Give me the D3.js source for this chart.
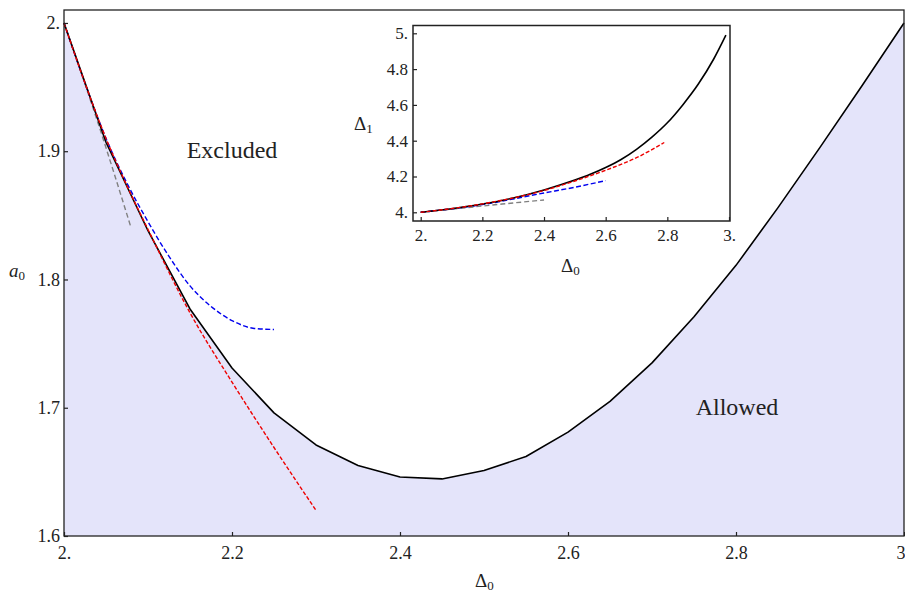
<!DOCTYPE html>
<html><head><meta charset="utf-8">
<script src="https://cdn.jsdelivr.net/npm/d3@7"></script>
<style>
html,body{margin:0;padding:0;background:#fff;}
svg text{font-family:"Liberation Serif","DejaVu Serif","Noto Serif",serif;fill:#222;}
</style></head>
<body>
<svg id="c" width="905" height="592"></svg>
<script>
// ---------- data ----------
const boundD0 = [2.00,2.05,2.10,2.15,2.20,2.25,2.30,2.35,2.40,2.45,2.50,2.55,2.60,2.65,2.70,2.75,2.80,2.85,2.90,2.95,3.00];
const boundA0 = [2.000,1.907,1.838,1.777,1.731,1.696,1.671,1.655,1.646,1.6445,1.651,1.662,1.681,1.705,1.735,1.771,1.811,1.856,1.903,1.951,2.000];
const redD0 = [2.0,2.025,2.05,2.075,2.1,2.15,2.2,2.25,2.3];
const redA0 = [2.0,1.953,1.910,1.873,1.839,1.774,1.720,1.669,1.620];
const blueD0 = [2.0,2.025,2.05,2.075,2.1,2.125,2.15,2.175,2.2,2.225,2.25];
const blueA0 = [2.0,1.953,1.910,1.875,1.845,1.818,1.795,1.779,1.768,1.762,1.761];
const grayD0 = [2.0,2.02,2.04,2.06,2.08];
const grayA0 = [2.0,1.962,1.923,1.882,1.840];

const inBlackD0 = [2.0,2.1,2.2,2.3,2.4,2.5,2.55,2.6,2.65,2.7,2.75,2.8,2.85,2.9,2.95,2.99];
const inBlackD1 = [4.0,4.02,4.046,4.08,4.125,4.18,4.212,4.25,4.295,4.352,4.42,4.50,4.60,4.715,4.855,4.99];
const inRedD0 = [2.0,2.2,2.4,2.5,2.6,2.7,2.79];
const inRedD1 = [4.0,4.047,4.122,4.175,4.235,4.305,4.39];
const inBlueD0 = [2.0,2.2,2.4,2.5,2.6];
const inBlueD1 = [4.0,4.043,4.108,4.14,4.177];
const inGrayD0 = [2.0,2.2,2.4];
const inGrayD1 = [4.0,4.035,4.069];

const mainXTicks = [2.0,2.2,2.4,2.6,2.8,3.0];
const mainXTickLabels = ["2.","2.2","2.4","2.6","2.8","3"];
const mainYTicks = [1.6,1.7,1.8,1.9,2.0];
const mainYTickLabels = ["1.6","1.7","1.8","1.9","2."];
const inXTicks = [2.0,2.2,2.4,2.6,2.8,3.0];
const inXTickLabels = ["2.","2.2","2.4","2.6","2.8","3."];
const inYTicks = [4.0,4.2,4.4,4.6,4.8,5.0];
const inYTickLabels = ["4.","4.2","4.4","4.6","4.8","5."];

const zip = (a,b)=>a.map((v,i)=>[v,b[i]]);
const svg = d3.select("#c");
const FONT = '"Liberation Serif","DejaVu Serif","Noto Serif",serif';

// ---------- main plot ----------
const L=64, R=904, T=10, B=536;
const x = d3.scaleLinear().domain([2,3]).range([L,R]);
const y = d3.scaleLinear().domain([1.6,2.0101]).range([B,T]);

const fillC = "#e4e4fa";
svg.append("path").datum(zip(boundD0,boundA0))
  .attr("d", d3.area().x(d=>x(d[0])).y0(B).y1(d=>y(d[1])))
  .attr("fill", fillC);

const lineM = d3.line().x(d=>x(d[0])).y(d=>y(d[1]));
const lineMs = d3.line().x(d=>x(d[0])).y(d=>y(d[1])).curve(d3.curveMonotoneX);

svg.append("path").datum(zip(grayD0,grayA0)).attr("d",lineMs)
  .attr("fill","none").attr("stroke","#808080").attr("stroke-width",1.4).attr("stroke-dasharray","5,3");
svg.append("path").datum(zip(blueD0,blueA0)).attr("d",lineMs)
  .attr("fill","none").attr("stroke","#0000ee").attr("stroke-width",1.4).attr("stroke-dasharray","5,2.5");
svg.append("path").datum(zip(boundD0,boundA0)).attr("d",lineM)
  .attr("fill","none").attr("stroke","#000").attr("stroke-width",1.6).attr("stroke-linejoin","round");
svg.append("path").datum(zip(redD0,redA0)).attr("d",lineMs)
  .attr("fill","none").attr("stroke","#ee0000").attr("stroke-width",1.4).attr("stroke-dasharray","4,2");

// frame
svg.append("rect").attr("x",L).attr("y",T).attr("width",R-L).attr("height",B-T)
  .attr("fill","none").attr("stroke","#222").attr("stroke-width",1.3);

// axes (ticks inward)
const gx = svg.append("g").attr("transform",`translate(0,${B})`)
  .call(d3.axisBottom(x).tickValues(mainXTicks).tickSizeInner(-4).tickSizeOuter(0)
        .tickFormat((d,i)=>mainXTickLabels[i]));
const gy = svg.append("g").attr("transform",`translate(${L},0)`)
  .call(d3.axisLeft(y).tickValues(mainYTicks).tickSizeInner(-4).tickSizeOuter(0)
        .tickFormat((d,i)=>mainYTickLabels[i]));
[gx,gy].forEach(g=>{
  g.attr("font-family",FONT);
  g.select(".domain").remove();
  g.selectAll(".tick line").attr("stroke","#222").attr("stroke-width",1.2);
  g.selectAll("text").style("font-family",FONT).attr("font-size",18).attr("fill","#222");
});
gx.selectAll("text").attr("y",10).attr("dy","0.71em");
gx.selectAll(".tick").filter((d,i)=>i===mainXTicks.length-1).select("text")
  .attr("text-anchor","end").attr("x",1);
gy.selectAll("text").attr("x",-4).attr("dy","0.32em");

// axis labels
const a0 = svg.append("text").attr("x",9).attr("y",277).attr("font-size",19);
a0.append("tspan").attr("font-style","italic").text("a");
a0.append("tspan").attr("font-size",13).attr("dy",3).text("0");
const d0 = svg.append("text").attr("x",475).attr("y",587).attr("font-size",19);
d0.append("tspan").text("Δ");
d0.append("tspan").attr("font-size",13).attr("dy",3).text("0");

svg.append("text").attr("x",232).attr("y",158).attr("text-anchor","middle").attr("font-size",24).text("Excluded");
svg.append("text").attr("x",737).attr("y",415).attr("text-anchor","middle").attr("font-size",24).text("Allowed");

// ---------- inset ----------
const iL=413, iR=730, iT=25.5, iB=221;
const xi = d3.scaleLinear().domain([2,3]).range([420.7,729]);
const yi = d3.scaleLinear().domain([4,5]).range([212.3,33.3]);
svg.append("rect").attr("x",iL).attr("y",iT).attr("width",iR-iL).attr("height",iB-iT)
  .attr("fill","#fff").attr("stroke","none");
const lineI = d3.line().x(d=>xi(d[0])).y(d=>yi(d[1])).curve(d3.curveMonotoneX);
svg.append("path").datum(zip(inGrayD0,inGrayD1)).attr("d",lineI)
  .attr("fill","none").attr("stroke","#808080").attr("stroke-width",1.4).attr("stroke-dasharray","5,3");
svg.append("path").datum(zip(inBlueD0,inBlueD1)).attr("d",lineI)
  .attr("fill","none").attr("stroke","#0000ee").attr("stroke-width",1.4).attr("stroke-dasharray","5,2.5");
svg.append("path").datum(zip(inBlackD0,inBlackD1)).attr("d",lineI)
  .attr("fill","none").attr("stroke","#000").attr("stroke-width",1.6);
svg.append("path").datum(zip(inRedD0,inRedD1)).attr("d",lineI)
  .attr("fill","none").attr("stroke","#ee0000").attr("stroke-width",1.4).attr("stroke-dasharray","4,2");
svg.append("rect").attr("x",iL).attr("y",iT).attr("width",iR-iL).attr("height",iB-iT)
  .attr("fill","none").attr("stroke","#222").attr("stroke-width",1.5);

const gxi = svg.append("g").attr("transform",`translate(0,${iB})`)
  .call(d3.axisBottom(xi).tickValues(inXTicks).tickSizeInner(-4).tickSizeOuter(0)
        .tickFormat((d,i)=>inXTickLabels[i]));
const gyi = svg.append("g").attr("transform",`translate(${iL},0)`)
  .call(d3.axisLeft(yi).tickValues(inYTicks).tickSizeInner(-4).tickSizeOuter(0)
        .tickFormat((d,i)=>inYTickLabels[i]));
[gxi,gyi].forEach(g=>{
  g.attr("font-family",FONT);
  g.select(".domain").remove();
  g.selectAll(".tick line").attr("stroke","#222").attr("stroke-width",1.2);
  g.selectAll("text").style("font-family",FONT).attr("font-size",17).attr("fill","#222");
});
gxi.selectAll("text").attr("y",8).attr("dy","0.71em");
gyi.selectAll("text").attr("x",-5).attr("dy","0.32em");

const d1 = svg.append("text").attr("x",354).attr("y",130).attr("font-size",19);
d1.append("tspan").text("Δ");
d1.append("tspan").attr("font-size",13).attr("dy",3).text("1");
const d0i = svg.append("text").attr("x",561).attr("y",272).attr("font-size",19);
d0i.append("tspan").text("Δ");
d0i.append("tspan").attr("font-size",13).attr("dy",3).text("0");
</script>
</body></html>
